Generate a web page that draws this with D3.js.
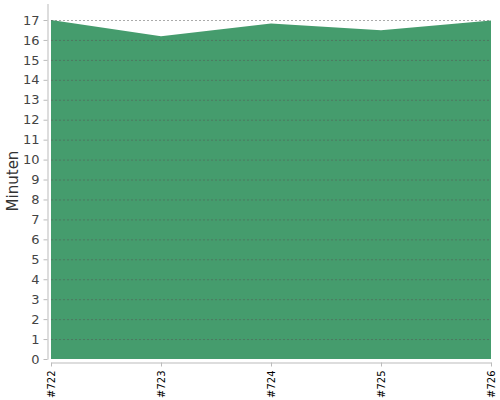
<!DOCTYPE html>
<html>
<head>
<meta charset="utf-8">
<script src="https://cdn.jsdelivr.net/npm/d3@7"></script>
<style>
  body { margin: 0; background: #fff; }
  svg { font-family: "DejaVu Sans", sans-serif; }
</style>
</head>
<body>
<script>
// builds and the minutes they took
var builds = ["#722", "#723", "#724", "#725", "#726"];
var minutes = [17.0, 16.18, 16.82, 16.48, 16.97];
var yTicks = d3.range(0, 18);

var W = 500, H = 400;
// note: "top" is taken by window.top, so use other names
var plotLeft = 51, plotRight = 491, plotTop = 20, plotBottom = 359;

var svg = d3.select("body").append("svg")
    .attr("width", W)
    .attr("height", H);

var x = d3.scalePoint().domain(builds).range([plotLeft, plotRight]);
var y = d3.scaleLinear().domain([0, 17]).range([plotBottom, plotTop]);

// filled area first
var area = d3.area()
    .x(function(d, i) { return x(builds[i]); })
    .y0(y(0))
    .y1(function(d) { return y(d); });

svg.append("path")
    .datum(minutes)
    .attr("d", area)
    .attr("fill", "#459c6d");

// dashed grid lines on top
svg.append("g").selectAll("line")
    .data(yTicks.filter(function(d) { return d > 0; }))
  .enter().append("line")
    .attr("x1", plotLeft)
    .attr("x2", plotRight)
    .attr("y1", function(d) { return y(d) + 0.5; })
    .attr("y2", function(d) { return y(d) + 0.5; })
    .attr("stroke", "#555")
    .attr("stroke-opacity", 0.5)
    .attr("stroke-dasharray", "2,2");

// y axis, pulled a bit left
var yAxis = svg.append("g")
    .attr("transform", "translate(" + (plotLeft - 3.5) + ",0)")
    .call(d3.axisLeft(y).tickValues(yTicks).tickSize(4).tickPadding(4))
    .attr("font-family", "DejaVu Sans, sans-serif");
yAxis.select(".domain").attr("stroke", "#bbb").attr("d", "M0.5," + (plotTop - 16) + "V" + (plotBottom + 0.5));
yAxis.selectAll(".tick line").attr("stroke", "#bbb");
yAxis.selectAll(".tick text")
    .attr("fill", "#444")
    .style("font-size", "13px");

// x axis, pulled a bit down
var xAxis = svg.append("g")
    .attr("transform", "translate(0," + (plotBottom + 3.5) + ")")
    .call(d3.axisBottom(x).tickSize(4).tickSizeOuter(0))
    .attr("font-family", "DejaVu Sans, sans-serif");
xAxis.select(".domain").attr("stroke", "#bbb");
xAxis.selectAll(".tick line").attr("stroke", "#bbb");
xAxis.selectAll(".tick text")
    .attr("fill", "#000")
    .style("font-size", "10px")
    .attr("text-anchor", "end")
    .attr("dy", "0.35em")
    .attr("transform", "translate(0,8) rotate(-90)")
    .attr("x", 0)
    .attr("y", 0);

svg.append("text")
    .attr("transform", "translate(18,181) rotate(-90)")
    .attr("text-anchor", "middle")
    .attr("fill", "#333")
    .style("font-size", "15px")
    .text("Minuten");
</script>
</body>
</html>
